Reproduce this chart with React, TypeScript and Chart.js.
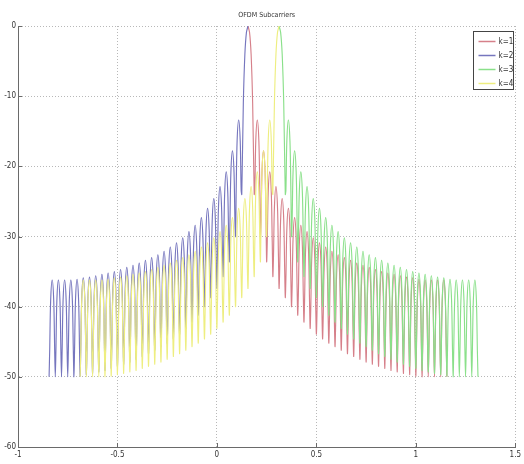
import React, { useEffect, useRef } from 'react';
import { Chart, registerables } from 'chart.js';

Chart.register(...registerables);

// ---- data ----
const seriesLabels = ['k=1', 'k=2', 'k=3', 'k=4'];
const seriesColors = ['rgb(214,128,138)', 'rgb(118,118,190)', 'rgb(138,224,138)', 'rgb(238,238,128)'];
// centre frequency of each subcarrier's main lobe, and the side drawn (+1 right half, -1 left half)
const seriesCenters = [0.15625, 0.15625, 0.3125, 0.3125];
const seriesSides = [1, -1, 1, -1];
const lobeSpacing = 0.03125;
// main lobe (offset in lobe spacings -> dB)
const mainLobeOffsets = [0, 0.25, 0.5, 0.75];
const mainLobeDb = [0, -0.9, -4, -11];
// side-lobe peaks, lobe 1..31 (dB)
const sidelobePeaksDb = [
  -13.4, -17.8, -20.8, -22.9, -24.6, -26.0, -27.3, -28.4, -29.3, -30.2,
  -30.9, -31.5, -32.1, -32.6, -33.0, -33.4, -33.8, -34.1, -34.4, -34.7,
  -35.0, -35.2, -35.4, -35.6, -35.8, -35.9, -36.1, -36.2, -36.2, -36.2, -36.2,
];
// minima between lobes, null 1..32 (dB)
const nullFloorDb = [
  -24, -30, -33.6, -35.7, -37.4, -38.7, -40, -41.2, -42.2, -43.1,
  -43.9, -44.6, -45.2, -45.7, -46.2, -46.7, -47.1, -47.5, -47.9, -48.2,
  -48.5, -48.8, -49.1, -49.3, -49.5, -49.7, -49.9, -50, -50, -50, -50, -50,
];
// shape of one side lobe: position across the lobe (0..1) -> dB below its peak
const lobeShapePos = [0.1, 0.25, 0.5, 0.75, 0.9];
const lobeShapeDb = [-10, -3, 0, -3, -10];
const xTicks = [-1, -0.5, 0, 0.5, 1, 1.5];
const yTicks = [-60, -50, -40, -30, -20, -10, 0];

const FONT = "'Liberation Sans Narrow', 'DejaVu Sans Condensed', 'Liberation Sans', sans-serif";

function buildSeries(c: number, side: number) {
  const pts: { x: number; y: number }[] = [];
  mainLobeOffsets.forEach((o, i) => pts.push({ x: c + side * o * lobeSpacing, y: mainLobeDb[i] }));
  nullFloorDb.forEach((t, i) => {
    const k = i + 1;
    pts.push({ x: c + side * k * lobeSpacing, y: t });
    if (i < sidelobePeaksDb.length) {
      const peak = sidelobePeaksDb[i];
      const nextT = nullFloorDb[i + 1];
      lobeShapePos.forEach((p, j) => {
        const floor = p < 0.5 ? t : nextT;
        const v = Math.max(peak + lobeShapeDb[j], floor + 0.5);
        pts.push({ x: c + side * (k + p) * lobeSpacing, y: v });
      });
    }
  });
  if (side < 0) pts.reverse();
  return pts;
}

const overlayPlugin = {
  id: 'overlay',
  afterDraw(chart: any) {
    const ctx = chart.ctx as CanvasRenderingContext2D;
    const a = chart.chartArea;
    const xs = chart.scales.x;
    const ys = chart.scales.y;
    ctx.save();
    ctx.strokeStyle = '#6a6a6a';
    ctx.lineWidth = 1;
    ctx.beginPath();
    xTicks.forEach((v) => {
      const px = Math.round(xs.getPixelForValue(v)) + 0.5;
      ctx.moveTo(px, a.bottom);
      ctx.lineTo(px, a.bottom - 4);
    });
    yTicks.forEach((v) => {
      const py = Math.round(ys.getPixelForValue(v)) + 0.5;
      ctx.moveTo(a.left, py);
      ctx.lineTo(a.left + 4, py);
    });
    ctx.stroke();

    // legend box
    const bx = Math.round(a.right) - 41.5;
    const by = Math.round(a.top) + 5.5;
    const bw = 40;
    const bh = 58;
    ctx.fillStyle = '#ffffff';
    ctx.fillRect(bx, by, bw, bh);
    ctx.strokeStyle = '#444';
    ctx.lineWidth = 1;
    ctx.strokeRect(bx, by, bw, bh);
    ctx.font = `8px ${FONT}`;
    ctx.textBaseline = 'middle';
    ctx.textAlign = 'left';
    chart.data.datasets.forEach((ds: any, i: number) => {
      const y = Math.round(by + 9.5 + i * 14) + 0.5;
      ctx.strokeStyle = ds.borderColor;
      ctx.lineWidth = 1.5;
      ctx.beginPath();
      ctx.moveTo(bx + 5, y);
      ctx.lineTo(bx + 22, y);
      ctx.stroke();
      ctx.fillStyle = '#333';
      ctx.fillText(ds.label, bx + 25, y);
    });
    ctx.restore();
  },
};

export default function App() {
  const ref = useRef<HTMLCanvasElement | null>(null);
  useEffect(() => {
    document.body.style.margin = '0';
    const canvas = ref.current!;
    const datasets = seriesLabels.map((label, i) => ({
      label,
      data: buildSeries(seriesCenters[i], seriesSides[i]),
      borderColor: seriesColors[i],
      backgroundColor: seriesColors[i],
      borderWidth: 1.15,
      pointRadius: 0,
      tension: 0.3,
      fill: false,
      order: 3 - i,
    }));
    const chart = new Chart(canvas, {
      type: 'line',
      data: { datasets },
      options: {
        animation: false,
        responsive: false,
        maintainAspectRatio: false,
        layout: { padding: { left: 0, right: 5, top: 0, bottom: 0 } },
        plugins: {
          legend: { display: false },
          tooltip: { enabled: false },
          title: {
            display: true,
            text: 'OFDM Subcarriers',
            fullSize: false,
            color: '#333',
            font: { size: 7, family: FONT, weight: 'normal', lineHeight: 1.2 },
            padding: { top: 10.5, bottom: 7.1 },
          },
        },
        scales: {
          x: {
            type: 'linear',
            min: -1,
            max: 1.5,
            afterBuildTicks: (s: any) => {
              s.ticks = xTicks.map((v) => ({ value: v }));
            },
            afterFit: (s: any) => {
              s.height = 17;
            },
            ticks: {
              font: { size: 8, family: FONT },
              color: '#333',
              padding: 3,
              maxRotation: 0,
              autoSkip: false,
              callback: (v: any) => String(v),
            },
            grid: { color: '#b8b8b8', lineWidth: 1, drawTicks: false },
            border: { display: true, color: '#6a6a6a', dash: [1, 2] },
          },
          y: {
            type: 'linear',
            min: -60,
            max: 0,
            afterBuildTicks: (s: any) => {
              s.ticks = yTicks.map((v) => ({ value: v }));
            },
            afterFit: (s: any) => {
              s.width = 18;
            },
            ticks: {
              font: { size: 8, family: FONT },
              color: '#333',
              padding: 2,
              autoSkip: false,
              callback: (v: any) => String(v),
            },
            grid: { color: '#b8b8b8', lineWidth: 1, drawTicks: false },
            border: { display: true, color: '#6a6a6a', dash: [1, 2] },
          },
        },
      },
      plugins: [overlayPlugin],
    });
    return () => chart.destroy();
  }, []);
  return <canvas ref={ref} width={524} height={464} style={{ display: 'block' }} />;
}
